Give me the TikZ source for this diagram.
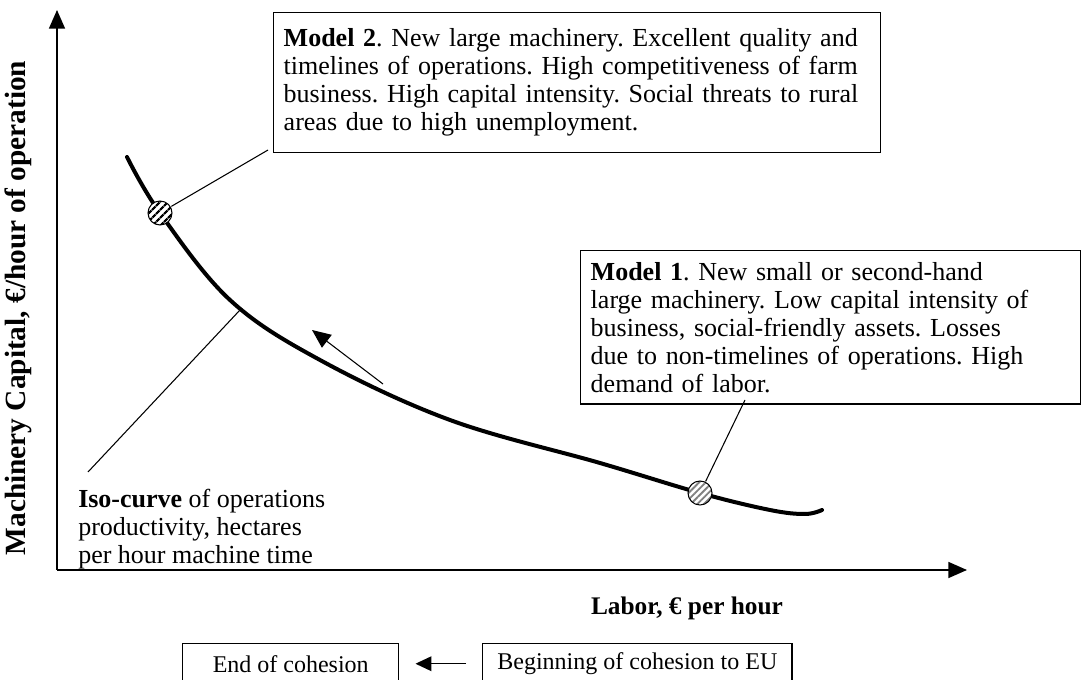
\documentclass[tikz,border=0pt]{standalone}
\usepackage{fontspec}
\setmainfont{Liberation Serif}
\usetikzlibrary{arrows.meta,patterns.meta}
\frenchspacing

\begin{document}
\begin{tikzpicture}[x=0.75pt,y=-0.75pt,
    txt/.style={font=\fontsize{19.5}{21}\selectfont, align=left, inner sep=0pt},
    box/.style={draw, line width=1.1pt, font=\fontsize{19.5}{21}\selectfont,
      align=left, anchor=north west, inner xsep=7.5pt},
    smallbox/.style={draw, line width=1.1pt, font=\fontsize{18}{20}\selectfont,
      align=center, anchor=north west, inner xsep=11pt, minimum height=30pt},
    axis/.style={line width=1.2pt, -{Triangle[length=14pt,width=12pt]}},
    leader/.style={line width=0.8pt},
    marker/.style={circle, draw, line width=0.8pt, minimum size=18pt, inner sep=0pt,
      preaction={fill=white}}]
  % --- canvas ---
  \clip (0,0) rectangle (1082,680);
  % --- axes ---
  \coordinate (origin) at (57,570);
  \coordinate (ytop) at (57,10);
  \coordinate (xend) at (967,570);
  \draw[axis] (origin) -- (ytop);
  \draw[axis] (origin) -- (xend);
  \node[rotate=90, font=\fontsize{22}{24}\selectfont\bfseries] (ylabel) at (18,308)
    {Machinery Capital, €/hour of operation};
  \node[font=\fontsize{19}{21}\selectfont\bfseries] (xlabel) at (687,608)
    {Labor, € per hour};
  % --- iso-curve ---
  \draw[line width=3pt, line cap=round] plot[smooth, tension=0.6] coordinates
    {(127,157) (160,213) (230,300) (320,360) (450,420) (600,463) (700,493)
     (770,510) (805,514) (822,510)};
  \coordinate (isopt) at (240,310);
  \node[marker, pattern={Lines[angle=45,distance=4pt,line width=1.8pt]},
    pattern color=black] (mk2) at (160,213) {};
  \node[marker, pattern={Lines[angle=45,distance=3.5pt,line width=1.4pt]},
    pattern color=gray] (mk1) at (700,493) {};
  % --- text boxes ---
  \node[box, text width=440pt, minimum height=105pt] (m2box) at (273,12)
    {\textbf{Model 2}. New large machinery. Excellent quality and\\
     timelines of operations. High competitiveness of farm\\
     business. High capital intensity. Social threats to rural\\
     areas due to high unemployment.};
  \node[box, text width=360pt, minimum height=115pt] (m1box) at (580,250)
    {\textbf{Model 1}. New small or second-hand\\
     large machinery. Low capital intensity of\\
     business, social-friendly assets. Losses\\
     due to non-timelines of operations. High\\
     demand of labor.};
  \node[txt, anchor=north west] (isotext) at (78,489)
    {\textbf{Iso-curve} of operations\\
     productivity, hectares\\
     per hour machine time};
  % --- leaders ---
  \coordinate (m2end) at (268,150);
  \coordinate (m1end) at (745,400);
  \coordinate (isoend) at (88,472);
  \draw[leader] (mk2) -- (m2end);
  \draw[leader] (mk1) -- (m1end);
  \draw[leader] (isoend) -- (isopt);
  % --- direction of change ---
  \coordinate (shiftfrom) at (383,384);
  \coordinate (shiftto) at (312,330);
  \draw[leader, -{Triangle[length=14pt,width=12pt]}] (shiftfrom) -- (shiftto);
  % --- cohesion boxes ---
  \node[smallbox, minimum width=162pt] (endbox) at (182,643) {End of cohesion};
  \node[smallbox] (beginbox) at (482,643) {Beginning of cohesion to EU};
  \draw[leader, line width=1.1pt, -{Triangle[length=12pt,width=11pt]},
    shorten >=12pt, shorten <=12pt] (beginbox.west) -- (endbox.east);
\end{tikzpicture}
\end{document}
